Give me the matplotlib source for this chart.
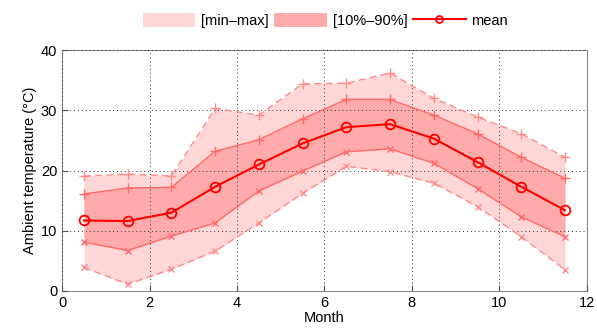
import matplotlib
matplotlib.use("Agg")
import matplotlib.pyplot as plt
from matplotlib.patches import Patch
from matplotlib.lines import Line2D

plt.rcParams['font.family'] = ['Liberation Sans', 'DejaVu Sans']

months = [0.5, 1.5, 2.5, 3.5, 4.5, 5.5, 6.5, 7.5, 8.5, 9.5, 10.5, 11.5]
t_mean = [11.7, 11.6, 13.0, 17.3, 21.0, 24.5, 27.2, 27.7, 25.3, 21.4, 17.3, 13.4]
t_p90 = [16.1, 17.1, 17.2, 23.2, 25.1, 28.6, 31.8, 31.8, 29.2, 26.1, 22.2, 18.7]
t_max = [19.1, 19.4, 19.1, 30.3, 29.2, 34.4, 34.5, 36.2, 32.0, 28.9, 26.1, 22.2]
t_p10 = [8.1, 6.7, 9.1, 11.3, 16.6, 19.9, 23.1, 23.6, 21.2, 17.0, 12.3, 9.0]
t_min = [3.9, 1.1, 3.6, 6.6, 11.3, 16.2, 20.7, 19.8, 17.9, 14.0, 9.0, 3.5]

light = '#ffd6d6'
mid = '#ffabab'

fig = plt.figure(figsize=(5.97, 3.34), dpi=100)
ax = fig.add_axes([0.104, 0.129, 0.879, 0.721])

ax.fill_between(months, t_min, t_max, color=light, lw=0, zorder=1)
ax.fill_between(months, t_p10, t_p90, color=mid, lw=0, zorder=2)

dash = (0, (5, 3))
ax.plot(months, t_max, linestyle=dash, color='#ff8c8c', lw=1, marker='+', ms=7, zorder=3)
ax.plot(months, t_min, linestyle=dash, color='#ff8c8c', lw=1, marker='x', ms=5, zorder=3)
ax.plot(months, t_p90, '-', color='#ff6a6a', lw=1, marker='+', ms=7, zorder=4)
ax.plot(months, t_p10, '-', color='#ff6a6a', lw=1, marker='x', ms=5, zorder=4)
ax.plot(months, t_mean, '-', color='#ff0000', lw=1.5, marker='o', ms=7,
        mfc='none', mew=1.3, zorder=5)

ax.set_xlim(0, 12)
ax.set_ylim(0, 40)
ax.set_xticks(range(0, 13, 2))
ax.set_yticks(range(0, 41, 10))
ax.grid(True, color='#333333', linestyle=(0, (1, 3)), linewidth=0.7)
ax.set_axisbelow(False)
ax.tick_params(direction='in', labelsize=10.5, length=4, color='#555555')
for s in ax.spines.values():
    s.set_color('#888888')
ax.set_xlabel('Month', fontsize=10.5, labelpad=1)
ax.set_ylabel('Ambient temperature (°C)', fontsize=10.5, labelpad=3)

handles = [Patch(facecolor=light, edgecolor='none'),
           Patch(facecolor=mid, edgecolor='none'),
           Line2D([0], [0], color='#ff0000', lw=1.5, marker='o', ms=5,
                  mfc='none', mew=1.3)]
fig.legend(handles, ['[min\u2013max]', '[10%\u201390%]', 'mean'],
           loc='center', bbox_to_anchor=(0.545, 0.94), ncol=3, frameon=False,
           fontsize=10.5, handlelength=3.6, handleheight=1.1,
           handletextpad=0.4, columnspacing=0.4)

fig.savefig('out.png', dpi=100)
